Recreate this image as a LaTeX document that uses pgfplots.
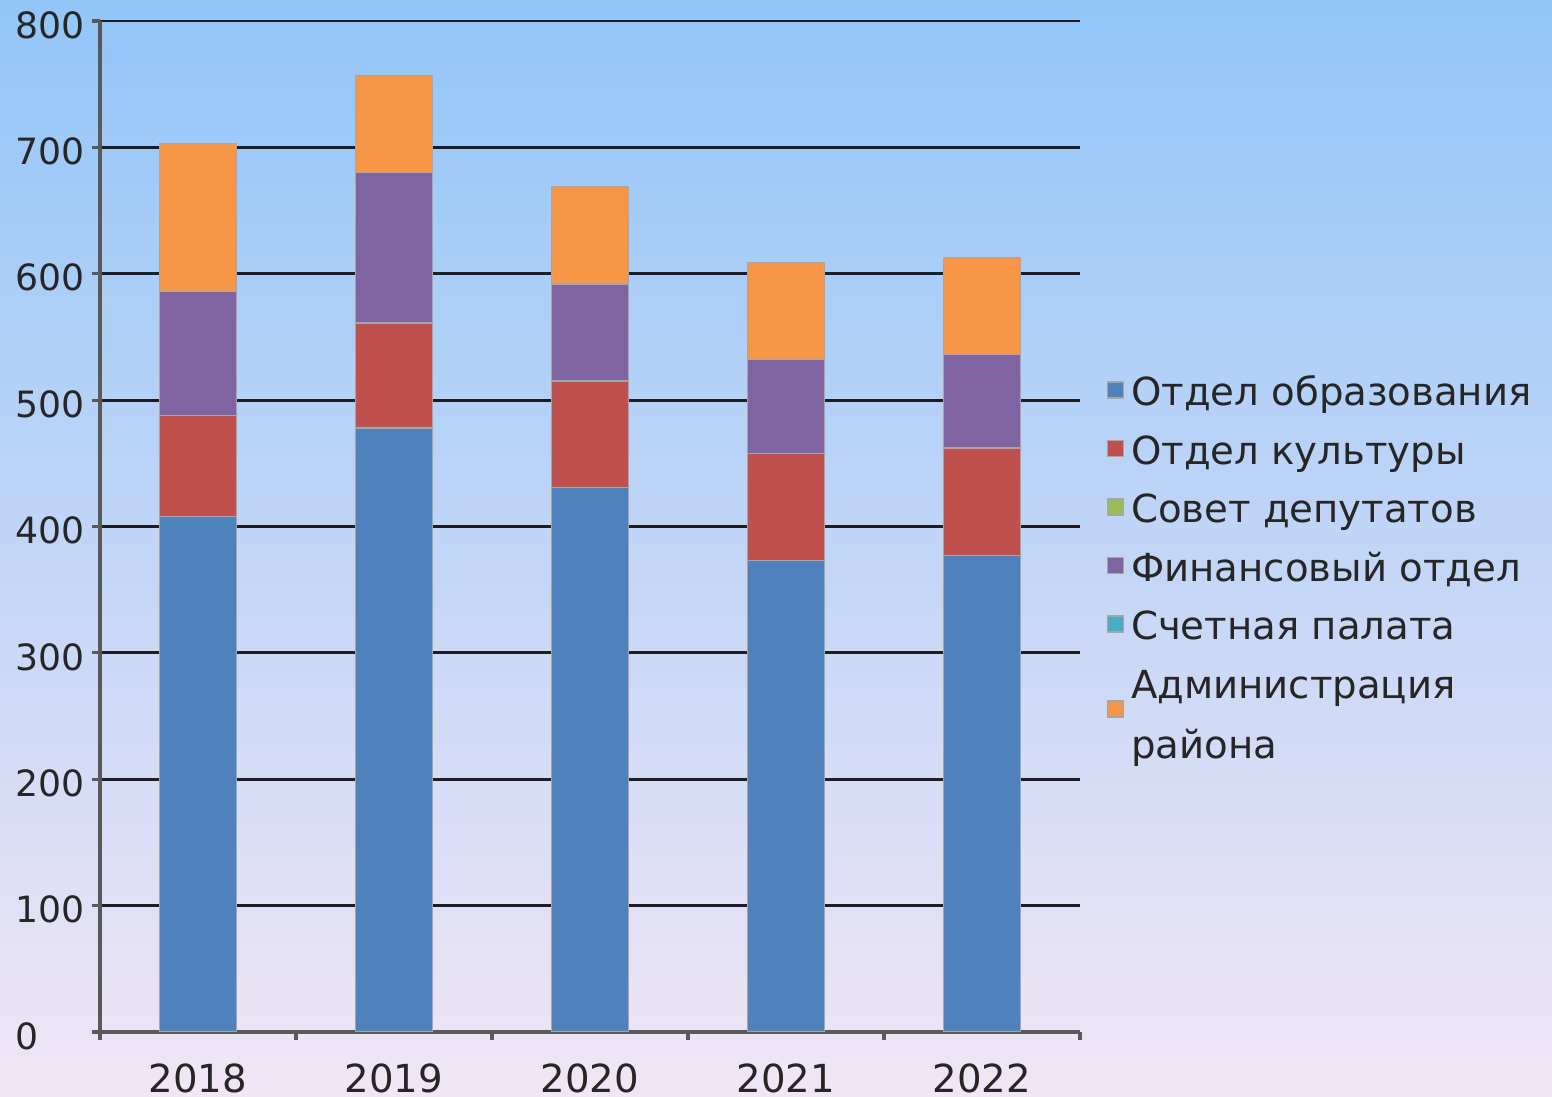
\documentclass[border=0pt]{standalone}
\usepackage{fontspec}
\setmainfont{DejaVu Sans}
\usepackage{pgfplots}
\pgfplotsset{compat=1.18}

\definecolor{c1}{HTML}{4F81BD}
\definecolor{c2}{HTML}{C0504D}
\definecolor{c3}{HTML}{9BBB59}
\definecolor{c4}{HTML}{8064A2}
\definecolor{c5}{HTML}{4BACC6}
\definecolor{c6}{HTML}{F79646}
\definecolor{bgtop}{HTML}{92C5F8}
\definecolor{bgmid}{HTML}{C6D6EE}
\definecolor{bgbot}{HTML}{F1E6F5}
\definecolor{gridc}{HTML}{1E1E22}

% fixed row strut for legend entries
\newcommand\ls{\rule[-3.5pt]{0pt}{14pt}}
% marker for the two-line entry sits lower
\pgfplotsset{lowimg/.style={legend image code/.code={%
  \draw[##1, draw=gray!70, line width=0.4pt] (0cm,-0.345cm) rectangle (0.16cm,-0.185cm);}}}

\begin{document}
\begin{tikzpicture}
\useasboundingbox (0,0) rectangle (15.52,10.97);
\shade[top color=bgtop, middle color=bgmid, bottom color=bgbot] (0,0) rectangle (15.52,10.97);
\begin{axis}[
  at={(1.0cm,0.65cm)}, anchor=south west,
  scale only axis, width=9.8cm, height=10.11cm,
  ybar stacked, bar width=0.77cm,
  xmin=-0.5, xmax=4.5, ymin=0, ymax=800,
  xtick={0,1,2,3,4},
  xticklabels={\textnormal{2018},\textnormal{2019},\textnormal{2020},\textnormal{2021},\textnormal{2022}},
  minor xtick={-0.5,0.5,1.5,2.5,3.5,4.5},
  ytick={0,100,...,800},
  /pgf/number format/assume math mode=true,
  axis x line*=bottom, axis y line*=left,
  axis line style={draw=black!65, line width=0.9pt},
  tick align=outside,
  major tick length=0.08cm, minor tick length=0.08cm,
  major x tick style={draw=none},
  tick style={black!65, line width=0.9pt},
  ymajorgrids, grid style={gridc, line width=0.8pt},
  xticklabel style={font=\fontsize{11}{13}\selectfont, anchor=north, inner sep=0pt, yshift=-0.23cm},
  yticklabel style={font=\fontsize{10.3}{12}\selectfont, anchor=west, inner sep=0pt, xshift=-0.77cm, yshift=-0.04cm},
  every tick label/.append style={text=black!85},
  legend image code/.code={%
    \draw[#1, draw=gray!70, line width=0.4pt] (0cm,-0.08cm) rectangle (0.16cm,0.08cm);},
  legend style={at={(1.0,0.6565)}, anchor=north west, xshift=0.26cm, draw=none, fill=none,
    inner sep=0pt, row sep=4.65pt, column sep=0pt,
    font=\fontsize{11}{13}\selectfont, text=black!85,
    nodes={inner sep=0pt, outer sep=0pt}},
  legend cell align=left,
]
\addplot[fill=c1, draw=gray!70, line width=0.4pt] coordinates {(0,408) (1,478) (2,431) (3,373) (4,377)};
\addplot[fill=c2, draw=gray!70, line width=0.4pt] coordinates {(0,80) (1,83) (2,84) (3,85) (4,85)};
\addplot[fill=c3, draw=none] coordinates {(0,0) (1,0) (2,0) (3,0) (4,0)};
\addplot[fill=c4, draw=gray!70, line width=0.4pt] coordinates {(0,98) (1,119) (2,77) (3,74) (4,74)};
\addplot[fill=c5, draw=none] coordinates {(0,0) (1,0) (2,0) (3,0) (4,0)};
\addplot[fill=c6, draw=gray!70, line width=0.4pt, lowimg]
  coordinates {(0,117) (1,77) (2,77) (3,77) (4,77)};
\legend{\hspace{0.07cm}\ls Отдел образования,
        \hspace{0.07cm}\ls Отдел культуры,
        \hspace{0.07cm}\ls Совет депутатов,
        \hspace{0.07cm}\ls Финансовый отдел,
        \hspace{0.07cm}\ls Счетная палата,
        \hspace{0.07cm}\begin{tabular}[t]{@{}l@{}}\ls Администрация\\[4pt]района\end{tabular}}
\end{axis}
\end{tikzpicture}
\end{document}
